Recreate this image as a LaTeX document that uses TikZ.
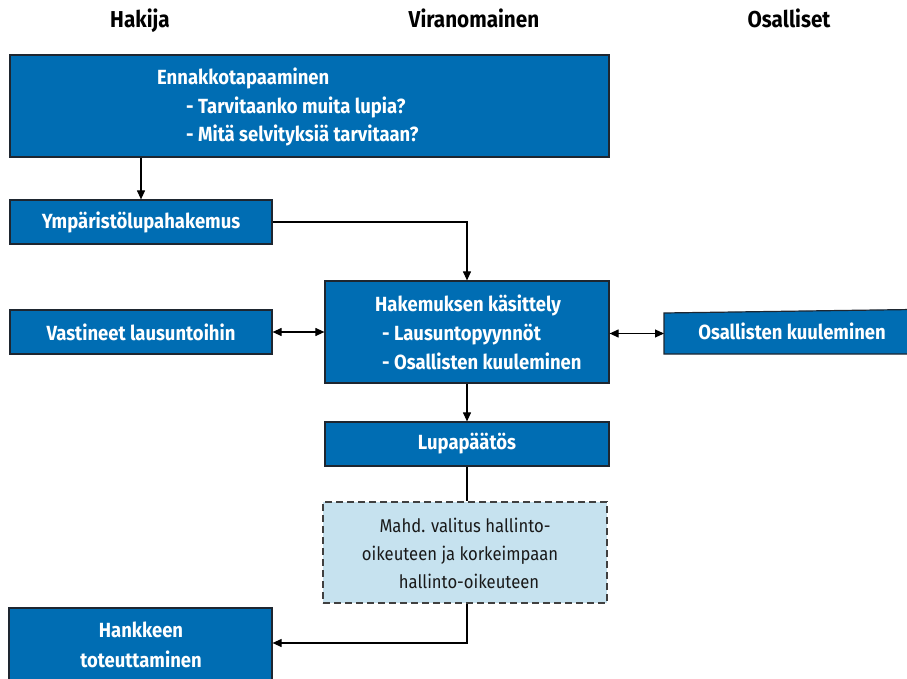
\documentclass[tikz,border=0pt]{standalone}
\usepackage{fontspec}
\setmainfont{Fira Sans}[FakeStretch=0.9]
\usetikzlibrary{arrows.meta}
\definecolor{boxblue}{RGB}{0,109,179}
\definecolor{boxedge}{RGB}{30,38,48}
\definecolor{lightblue}{RGB}{198,226,239}
\definecolor{dashedge}{RGB}{64,64,64}
\definecolor{darktext}{RGB}{25,25,25}
\tikzset{
  bluebox/.style={draw=boxedge, line width=1.2pt, fill=boxblue, text=white, inner sep=0pt,
    font=\bfseries\fontsize{20.5}{24}\selectfont, align=center},
  lightbox/.style={draw=dashedge, line width=1.2pt, dash pattern=on 7pt off 4pt, fill=lightblue, inner sep=0pt},
  inlabel/.style={text=white, inner sep=0pt, anchor=base west, font=\bfseries\fontsize{20.5}{24}\selectfont},
  darklabel/.style={text=darktext, inner sep=0pt, anchor=base, font=\fontsize{18.5}{22}\selectfont},
  header/.style={inner sep=0pt, anchor=base, font=\bfseries\fontsize{23}{26}\selectfont},
  conn/.style={draw=black, line width=1.1pt},
  arr/.style={conn, -{Triangle[length=9pt,width=8pt]}},
  darr/.style={conn, {Triangle[length=9pt,width=8pt]}-{Triangle[length=9pt,width=8pt]}}
}
\begin{document}
\begin{tikzpicture}[x=1pt,y=-1pt]
\useasboundingbox (0,0) rectangle (907,679);
\clip (0,0) rectangle (907,679);
% headers
\node[header] (h1) at (140,28) {Hakija};
\node[header] (h2) at (474,28) {Viranomainen};
\node[header] (h3) at (789,28) {Osalliset};
% box 1
\node[bluebox, minimum width=599pt, minimum height=102pt] (b1) at (309.5,106) {};
\node[inlabel] (t1a) at (157,85) {Ennakkotapaaminen};
\node[inlabel] (t1b) at (186,113.5) {- Tarvitaanko muita lupia?};
\node[inlabel] (t1c) at (186,142) {- Mitä selvityksiä tarvitaan?};
% box 2
\node[bluebox, minimum width=262pt, minimum height=44pt] (b2) at (141,222) {Ympäristölupahakemus};
% box 3
\node[bluebox, minimum width=284pt, minimum height=102pt] (b3) at (467,332) {};
\node[inlabel] (t3a) at (375,311) {Hakemuksen käsittely};
\node[inlabel] (t3b) at (382,340) {- Lausuntopyynnöt};
\node[inlabel] (t3c) at (382,369) {- Osallisten kuuleminen};
% box 4
\node[bluebox, minimum width=262pt, minimum height=44pt] (b4) at (141,332) {Vastineet lausuntoihin};
% box 5 (slightly slanted top)
\coordinate (b5w) at (664,333.5);
\filldraw[draw=boxedge, line width=1.2pt, fill=boxblue] (664,313) -- (912,309.5) -- (912,354) -- (664,354) -- cycle;
\node[inlabel, anchor=base] (t5) at (792,339) {Osallisten kuuleminen};
% box 6
\node[bluebox, minimum width=284pt, minimum height=44pt] (b6) at (467,444) {Lupapäätös};
% dashed box
\node[lightbox, minimum width=284pt, minimum height=101pt] (d) at (465,552.5) {};
\node[darklabel] (td1) at (465,532) {Mahd. valitus hallinto-};
\node[darklabel] (td2) at (460,560) {oikeuteen ja korkeimpaan};
\node[darklabel] (td3) at (469,588) {hallinto-oikeuteen};
% box 7
\node[bluebox, minimum width=263pt, minimum height=84pt] (b7) at (140.5,650) {};
\node[inlabel, anchor=base] (t7a) at (141,637) {Hankkeen};
\node[inlabel, anchor=base] (t7b) at (141,667) {toteuttaminen};
% connectors
\draw[arr] (b2.north |- b1.south) -- (b2.north);
\draw[arr] (b2.east) -| (b3.north);
\draw[darr] (b4.east) -- (b3.west |- b4.east);
\draw[darr] (b3.east |- b5w) -- (b5w);
\draw[arr] (b3.south) -- (b6.north);
\draw[conn] (b6.south) -- (b6.south |- d.north);
\coordinate (y7) at (0,643);
\draw[arr] (b6.south |- d.south) |- (b7.east |- y7);
\end{tikzpicture}
\end{document}
